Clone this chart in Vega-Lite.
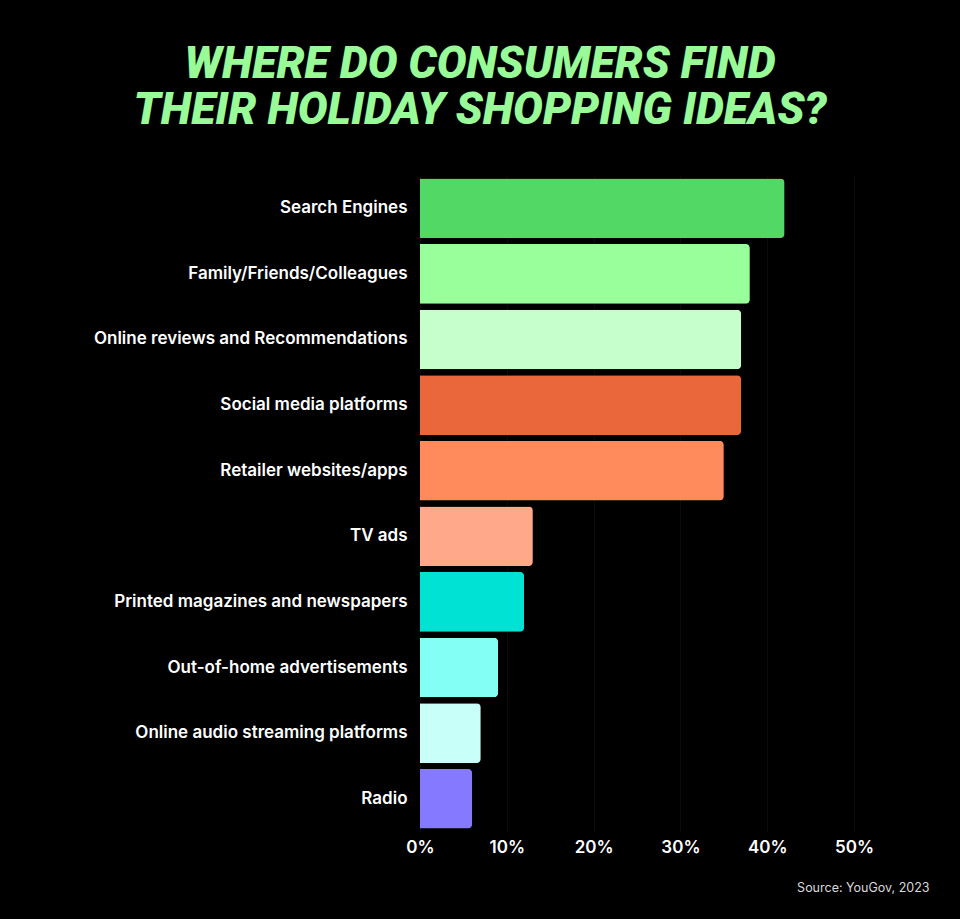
{
  "$schema": "https://vega.github.io/schema/vega-lite/v6.json",
  "width": 434,
  "height": 656,
  "autosize": {"type": "none"},
  "padding": {"left": 420, "top": 175.5, "right": 106, "bottom": 87.5},
  "background": "#000000",
  "title": {
    "text": ["WHERE DO CONSUMERS FIND", "THEIR HOLIDAY SHOPPING IDEAS?"],
    "anchor": "middle",
    "frame": "group",
    "dx": -157,
    "font": "Roboto",
    "fontSize": 44.5,
    "fontWeight": 900,
    "fontStyle": "italic",
    "color": "#98fb98",
    "lineHeight": 46,
    "offset": 42
  },
  "data": {
    "values": [
      {"source": "Search Engines", "pct": 42},
      {"source": "Family/Friends/Colleagues", "pct": 38},
      {"source": "Online reviews and Recommendations", "pct": 37},
      {"source": "Social media platforms", "pct": 37},
      {"source": "Retailer websites/apps", "pct": 35},
      {"source": "TV ads", "pct": 13},
      {"source": "Printed magazines and newspapers", "pct": 12},
      {"source": "Out-of-home advertisements", "pct": 9},
      {"source": "Online audio streaming platforms", "pct": 7},
      {"source": "Radio", "pct": 6}
    ]
  },
  "mark": {"type": "bar", "cornerRadiusEnd": 4},
  "encoding": {
    "y": {
      "field": "source",
      "type": "nominal",
      "sort": null,
      "scale": {"paddingInner": 0.0915, "paddingOuter": 0.0457},
      "axis": {
        "title": null,
        "domain": false,
        "ticks": false,
        "labelPadding": 13,
        "labelFont": "Inter",
        "labelFontSize": 17,
        "labelFontWeight": 600,
        "labelColor": "#ffffff",
        "labelLimit": 400
      }
    },
    "x": {
      "field": "pct",
      "type": "quantitative",
      "scale": {"domain": [0, 50]},
      "axis": {
        "values": [0, 10, 20, 30, 40, 50],
        "labelExpr": "datum.value + '%'",
        "labelFlush": false,
        "domain": false,
        "ticks": false,
        "grid": true,
        "gridColor": "#0b0b0b",
        "gridWidth": 1,
        "labelPadding": 8,
        "labelFont": "Inter",
        "labelFontSize": 17,
        "labelFontWeight": 600,
        "labelColor": "#ffffff",
        "title": "Source: YouGov, 2023",
        "titleFont": "Inter",
        "titleFontSize": 12.5,
        "titleFontWeight": 400,
        "titleColor": "#d9d9d9",
        "titleAnchor": "end",
        "titleAlign": "right",
        "titleBaseline": "middle",
        "titleX": 509,
        "titleY": 56
      }
    },
    "color": {
      "field": "source",
      "type": "nominal",
      "legend": null,
      "scale": {
        "domain": ["Search Engines", "Family/Friends/Colleagues", "Online reviews and Recommendations", "Social media platforms", "Retailer websites/apps", "TV ads", "Printed magazines and newspapers", "Out-of-home advertisements", "Online audio streaming platforms", "Radio"],
        "range": ["#52d865", "#98ff9b", "#c6ffcb", "#e9673a", "#ff8a5c", "#ffa88a", "#00e2d4", "#84fff6", "#c9fff9", "#8479ff"]
      }
    }
  },
  "config": {"view": {"stroke": null}}
}
